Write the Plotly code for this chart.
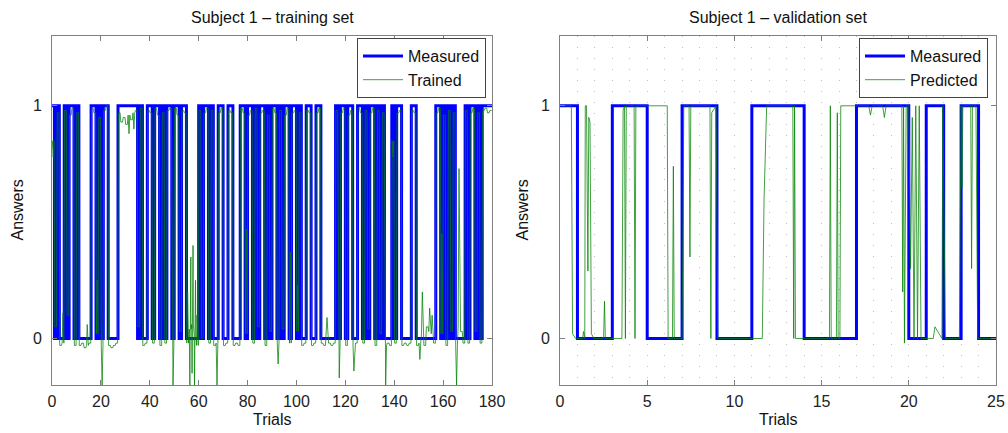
import plotly.graph_objects as go

# ---------------- data ----------------
# Left panel: measured answers per trial (180 trials)
measured_train = [
    1, 0, 1, 0, 0, 1, 0, 1, 1, 0, 1, 0, 0, 0, 0, 0, 1, 1, 0, 1, 0, 1, 1, 0, 0, 0, 0,
    1, 1, 1, 1, 1, 1, 1, 1, 0, 1, 0, 0, 1, 1, 0, 1, 1, 0, 1, 0, 1, 1, 0, 1, 1, 0, 1, 1,
    0, 0, 0, 0, 0, 1, 0, 1, 1, 0, 1, 0, 0, 1, 1, 0, 0, 1, 1, 0, 0, 0,
    1, 1, 0, 1, 1, 0, 1, 0, 1, 1, 0, 1, 0, 1, 1, 0, 1, 0, 1, 1, 0, 1, 1, 0, 1,
    0, 0, 1, 1, 0, 0, 1, 1, 0, 0, 0, 0, 0, 0, 1, 0, 1, 1, 0, 1, 1, 0, 0,
    1, 1, 0, 1, 0, 1, 1, 0, 1, 0, 1, 0, 0, 0, 1, 0, 1, 1, 0, 0, 0, 0, 1, 1,
    0, 0, 0, 0, 0, 0, 0, 0, 1, 1, 0, 1, 0, 1, 0, 1, 0, 0, 0, 0,
    1, 0, 1, 1, 0, 1, 0, 1, 1, 1, 1,
]
# Left panel: trained network output level within each trial
trained_level = [
    0.85, 0.05, 0.97, -0.03, -0.02, 0.98, 0.1, 0.96, 0.99, -0.03, 0.97,
    -0.03, -0.02, -0.04, -0.03, -0.02, 0.99, 0.97, 0.02, 0.95, -0.03, 0.98, 1.0,
    -0.03, -0.04, -0.03, -0.02, 0.97, 0.93, 0.95, 0.92, 0.96, 0.94, 0.97, 0.98, 0.05, 0.99,
    -0.03, -0.02, 0.98, 0.97, -0.02, 0.99, 0.96, -0.03, 0.97, -0.02, 0.98, 0.99, -0.03,
    0.99, 0.96, 0.03, 0.98, 0.97, -0.02, 0.04, 0.06, 0.02, -0.03,
    0.98, 0.0, 0.97, 0.99, -0.02, 0.98, -0.03, -0.02, 0.97, 0.99, -0.03, -0.02, 0.98, 0.97,
    -0.03, -0.02, -0.03,
    0.99, 0.97, 0.02, 0.96, 0.98, -0.02, 0.99, 0.05, 0.97, 0.98, -0.03, 0.96, 0.03,
    0.99, 0.97, -0.02, 0.98, 0.04, 0.96, 0.99, -0.02, 0.97, 0.98, 0.03, 0.97,
    -0.03, -0.02, 0.98, 0.97, -0.03, -0.02, 0.97, 0.99, -0.02, -0.03, 0.03, -0.02, -0.03, -0.02,
    0.98, -0.02, 0.97, 0.99, -0.03, 0.96, 0.98, -0.03, -0.02,
    0.99, 0.97, -0.02, 0.98, 0.04, 0.97, 0.99, -0.03, 0.98, 0.02, 0.97, -0.03, -0.02, -0.03,
    0.85, -0.02, 0.97, 0.98, -0.03, -0.02, -0.03, -0.02, 0.98, 0.97,
    -0.03, -0.02, 0.02, -0.03, 0.05, 0.03, 0.02, -0.02,
    0.97, 0.99, 0.02, 0.96, -0.03, 0.98, 0.03, 0.97, -0.03, 0.05, 0.03, -0.02,
    0.98, -0.02, 0.97, 0.99, 0.03, 0.97, -0.02, 0.98, 0.99, 0.97, 0.98,
]
# Left panel: isolated excursions of the trained output
spike_x = [0.5, 4.5, 14.4, 18.5, 20.5, 31.5, 33.5, 49.5, 55.5, 56.4, 56.8, 57.3, 57.7,
           58.3, 58.7, 59.3, 67.5, 79.5, 92.5, 97.5, 100.5, 112.5, 117.5, 123.5,
           136.5, 139.5, 150.5, 151.5, 154.5, 155.5, 159.5, 165.5, 166.5]
spike_y = [0.78, 0.11, 0.06, 0.25, -0.2, 0.88, 0.9, -0.2, 0.2, -0.2, 0.35, -0.15, 0.4,
           -0.2, 0.25, 0.1, -0.2, 0.47, -0.11, 0.37, 0.23, 0.09, -0.17, -0.14,
           -0.2, 0.78, -0.09, 0.2, 0.13, 0.1, 0.45, -0.2, 0.73]

# Right panel: measured answers per trial (25 trials)
measured_val = [1, 0, 0, 1, 1, 0, 0, 1, 1, 0, 0, 1, 1, 1, 0, 0, 0, 1, 1, 1, 0, 1, 0, 1, 0]
# Right panel: predicted output trace
pred_x = [0, 0.65, 0.72, 0.9, 1.3, 1.35, 1.42, 1.45, 1.52, 1.6, 1.65, 1.72, 1.8, 1.95,
          2.5, 2.55, 2.6, 3.55, 3.62, 3.7, 3.75, 3.8, 4.25, 4.3, 4.35, 6.15, 6.2, 6.45,
          6.5, 6.55, 7.0, 7.1, 7.4, 7.45, 7.5, 8.6, 8.65, 8.7, 8.95, 9.05, 11.6, 11.7,
          11.85, 13.35, 13.4, 13.45, 13.5, 15.45, 15.5, 15.55, 15.85, 15.9, 15.95, 16.05,
          16.1, 17.7, 17.8, 17.9, 18.5, 18.6, 18.7, 19.6, 19.65, 19.7, 19.75, 19.85, 20.0,
          20.1, 20.2, 20.3, 20.4, 20.5, 20.6, 20.7, 21.4, 21.5, 21.9, 21.95, 22.1, 22.9,
          23.0, 23.05, 23.1, 23.55, 23.6, 23.65, 23.85, 23.95, 25.0]
pred_y = [1, 1, 0.02, 0, 0, 0.03, 0, 1, 1, 0.29, 0.95, 0.93, 0.02, 0,
          0, 0.16, 0, 0, 0.98, 1, 0, 1, 1, 0, 1, 1, 0, 0,
          0.74, 0, 0, 1, 1, 0.35, 1, 1, 0, 0.97, 1, 0, 0, 0.6,
          1, 1, 0, 1, 0, 0, 1, 0, 0, 0.97, 0, 0,
          1, 1, 0.96, 1, 1, 0.95, 1, 1, 0.2, 1, -0.02, 1, 1,
          0.3, 0.95, 0, 1, 0, 1, 0, 0, 0.05, 0, 1, 0, 0,
          1, 0.65, 1, 1, 0.3, 1, 1, 0, 0]

train_xticks = [0, 20, 40, 60, 80, 100, 120, 140, 160, 180]
val_xticks = [0, 5, 10, 15, 20, 25]
y_ticks = [0, 1]

# ---------------- build traces ----------------
def stairs(values):
    xs = list(range(len(values) + 1))
    ys = list(values) + [values[-1]]
    return xs, ys

n = min(len(measured_train), len(trained_level))
mx, my = stairs(measured_train[:n])

pts = []
for i in range(n):
    pts.append((i + 0.15, trained_level[i]))
    pts.append((i + 0.85, trained_level[i]))
for sx, sy in zip(spike_x, spike_y):
    pts.append((sx, sy))
pts.sort(key=lambda p: p[0])
gx = [p[0] for p in pts]
gy = [p[1] for p in pts]

vx, vy = stairs(measured_val)

BLUE = "rgb(0,0,255)"
GREEN = "rgba(0,128,0,0.75)"
FONT = "Liberation Sans, Arial, Helvetica, sans-serif"

fig = go.Figure()
fig.add_trace(go.Scatter(x=mx, y=my, mode="lines", line=dict(color=BLUE, width=3, shape="hv"),
                         name="Measured", xaxis="x", yaxis="y", legend="legend"))
fig.add_trace(go.Scatter(x=gx, y=gy, mode="lines", line=dict(color=GREEN, width=1),
                         name="Trained", xaxis="x", yaxis="y", legend="legend"))
fig.add_trace(go.Scatter(x=vx, y=vy, mode="lines", line=dict(color=BLUE, width=3, shape="hv"),
                         name="Measured", xaxis="x2", yaxis="y2", legend="legend2"))
fig.add_trace(go.Scatter(x=pred_x, y=pred_y, mode="lines", line=dict(color=GREEN, width=1),
                         name="Predicted", xaxis="x2", yaxis="y2", legend="legend2"))

W, H = 1008, 433
L1, R1 = 52 / W, 492 / W
L2, R2 = 560 / W, 996 / W
YB, YT = 1 - 385 / H, 1 - 36 / H

axcol = "#808080"
common_x = dict(showline=True, linecolor=axcol, linewidth=1, mirror="ticks", ticks="inside",
                ticklen=5, tickcolor=axcol, zeroline=False, showgrid=False,
                tickfont=dict(size=16, color="#222", family=FONT), ticklabelstandoff=2,
                automargin=False, ticklabeloverflow="allow")
common_y = dict(showline=True, linecolor=axcol, linewidth=1, mirror="ticks", ticks="inside",
                ticklen=5, tickcolor=axcol, zeroline=False, showgrid=False, range=[-0.2, 1.3],
                tickvals=y_ticks, tickfont=dict(size=16, color="#222", family=FONT),
                ticklabelstandoff=6, automargin=False)

legend_common = dict(bgcolor="white", bordercolor="#444", borderwidth=1,
                     font=dict(size=16, color="#111", family=FONT), xanchor="right",
                     yanchor="top", itemwidth=40, tracegroupgap=0)

fig.update_layout(
    width=W, height=H, autosize=False, margin=dict(l=0, r=0, t=0, b=0, pad=0),
    paper_bgcolor="white", plot_bgcolor="white",
    font=dict(family=FONT, color="#111"),
    xaxis=dict(domain=[L1, R1], range=[0, 180], tickvals=train_xticks, anchor="y", **common_x),
    yaxis=dict(domain=[YB, YT], anchor="x", **common_y),
    xaxis2=dict(domain=[L2, R2], range=[0, 25], tickvals=val_xticks, anchor="y2",
                **{**common_x, "showgrid": True}, gridcolor="#c0c0c0", gridwidth=1,
                griddash="1px,10px",
                minor=dict(dtick=1, tick0=0, showgrid=True, gridcolor="#c0c0c0",
                           gridwidth=1, griddash="1px,10px", ticks="")),
    yaxis2=dict(domain=[YB, YT], anchor="x2", **common_y),
    legend=dict(x=486 / W, y=1 - 38 / H, **legend_common),
    legend2=dict(x=988 / W, y=1 - 38 / H, **legend_common),
    showlegend=True,
)

annos = [
    dict(text="Subject 1 – training set", x=(L1 + R1) / 2, y=1 - 18 / H),
    dict(text="Subject 1 – validation set", x=(L2 + R2) / 2, y=1 - 18 / H),
    dict(text="Trials", x=(L1 + R1) / 2, y=1 - 419 / H),
    dict(text="Trials", x=(L2 + R2) / 2, y=1 - 419 / H),
    dict(text="Answers", x=17 / W, y=(YB + YT) / 2, textangle=-90),
    dict(text="Answers", x=522 / W, y=(YB + YT) / 2, textangle=-90),
]
for a in annos:
    fig.add_annotation(xref="paper", yref="paper", showarrow=False, xanchor="center",
                       yanchor="middle", font=dict(size=16, color="#111", family=FONT), **a)

fig.write_html("out.html",
               config={"displayModeBar": False, "responsive": False},
               post_script="document.body.style.margin='0';document.body.style.overflow='hidden';")
